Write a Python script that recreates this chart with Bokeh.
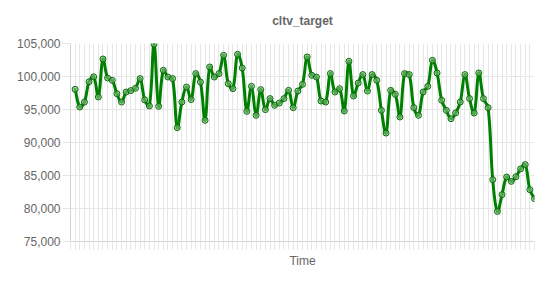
import numpy as np
from bokeh.plotting import figure
from bokeh.models import Range1d, FixedTicker, NumeralTickFormatter, ColumnDataSource
from bokeh.embed import file_html
from bokeh.resources import INLINE

# ---- data -------------------------------------------------------------
chart_title = "cltv_target"
x_title = "Time"
y_ticks = [75000, 80000, 85000, 90000, 95000, 100000, 105000]

cltv_target = [
    98060, 95380, 96130, 99200, 99950, 96900, 102650, 99770, 99420, 97400,
    96130, 97650, 97860, 98210, 99680, 96470, 95530, 104880, 95480, 100940,
    99920, 99680, 92250, 96130, 98410, 96500, 100440, 99160, 93360, 101440,
    99920, 100440, 103210, 98920, 98160, 103360, 101290, 94720, 98510, 94120,
    98010, 94980, 96650, 95630, 95980, 96650, 97900, 95280, 97800, 98810,
    102950, 100180, 99920, 96280, 96130, 100440, 97650, 98160, 94770, 102300,
    97040, 99010, 100290, 97800, 100290, 99420, 94870, 91430, 97900, 97300,
    93860, 100440, 100290, 95280, 94120, 97650, 98510, 102450, 100530, 96390,
    94870, 93610, 94470, 96130, 100290, 96650, 94470, 100530, 96650, 95280,
    84370, 79560, 82100, 84770, 84110, 84820, 86000, 86650, 82850, 81490,
]

# ---- geometry ---------------------------------------------------------
W, H = 550, 285
LEFT, RIGHT, TOP, BOTTOM = 70, 16, 43, 44
FRAME_W = W - LEFT - RIGHT
FRAME_H = H - TOP - BOTTOM

y_vals = np.array(cltv_target, dtype=float)
x_vals = np.arange(len(y_vals), dtype=float)
x_lo, x_hi = -1.0, float(len(y_vals) - 1)
y_lo, y_hi = float(min(y_ticks)), float(max(y_ticks))
x_ticks = list(np.arange(x_lo, x_hi + 1))

GREEN = "#008000"
GRID = "#e6e6e6"
AXIS = "#d4d4d4"
TEXT = "#666666"
FONT = "Liberation Sans"

# ---- smooth curve (cardinal-style bezier, tension 0.4) -----------------
sx = FRAME_W / (x_hi - x_lo)
sy = FRAME_H / (y_hi - y_lo)
px, py = x_vals * sx, y_vals * sy
tension = 0.4
n = len(px)
cp_prev = np.zeros((n, 2))
cp_next = np.zeros((n, 2))
for i in range(n):
    a = max(i - 1, 0)
    b = min(i + 1, n - 1)
    d01 = np.hypot(px[i] - px[a], py[i] - py[a])
    d12 = np.hypot(px[b] - px[i], py[b] - py[i])
    tot = d01 + d12
    s01 = d01 / tot if tot > 0 else 0.0
    s12 = d12 / tot if tot > 0 else 0.0
    fa, fb = tension * s01, tension * s12
    dx, dy = px[b] - px[a], py[b] - py[a]
    cp_prev[i] = (px[i] - fa * dx, py[i] - fa * dy)
    cp_next[i] = (px[i] + fb * dx, py[i] + fb * dy)

def to_data(cp):
    cx = np.clip(cp[:, 0] / sx, x_lo, x_hi)
    cy = np.clip(cp[:, 1] / sy, y_lo, y_hi)
    return cx, cy

nx_, ny_ = to_data(cp_next)
pvx, pvy = to_data(cp_prev)

seg = ColumnDataSource(dict(
    x0=x_vals[:-1], y0=y_vals[:-1], x1=x_vals[1:], y1=y_vals[1:],
    cx0=nx_[:-1], cy0=ny_[:-1], cx1=pvx[1:], cy1=pvy[1:],
))
pts = ColumnDataSource(dict(x=x_vals, y=y_vals))

# ---- figure -----------------------------------------------------------
p = figure(
    width=W, height=H, output_backend="svg", toolbar_location=None,
    x_range=Range1d(x_lo, x_hi), y_range=Range1d(y_lo, y_hi),
    min_border_left=LEFT, min_border_right=RIGHT,
    min_border_top=TOP, min_border_bottom=BOTTOM,
    title=chart_title,
)
p.outline_line_color = None
p.background_fill_color = "white"
p.border_fill_color = "white"

p.title.align = "center"
p.title.vertical_align = "top"
p.title.text_font = FONT
p.title.text_font_size = "12px"
p.title.text_font_style = "bold"
p.title.text_color = TEXT
p.title.offset = 0
p.title.standoff = 27

# x axis: an unlabeled tick per sample (minor ticks carry no labels)
p.xaxis.ticker = FixedTicker(ticks=[], minor_ticks=x_ticks)
p.xaxis.axis_label = x_title
p.xaxis.axis_label_text_font = FONT
p.xaxis.axis_label_text_font_size = "12px"
p.xaxis.axis_label_text_font_style = "normal"
p.xaxis.axis_label_text_color = TEXT
p.xaxis.axis_label_standoff = 4
p.xaxis.minor_tick_out = 8
p.xaxis.minor_tick_in = 0
p.xaxis.minor_tick_line_color = GRID
p.xaxis.major_tick_line_color = None
p.xaxis.axis_line_color = AXIS
p.xgrid.ticker = FixedTicker(ticks=x_ticks)

# y axis
p.yaxis.ticker = FixedTicker(ticks=y_ticks)
p.yaxis.formatter = NumeralTickFormatter(format="0,0")
p.yaxis.major_label_text_font = FONT
p.yaxis.major_label_text_font_size = "12px"
p.yaxis.major_label_text_color = TEXT
p.yaxis.major_tick_out = 8
p.yaxis.major_tick_in = 0
p.yaxis.major_label_standoff = 2
p.yaxis.minor_tick_line_color = None
p.yaxis.major_tick_line_color = GRID
p.yaxis.axis_line_color = AXIS

p.xgrid.grid_line_color = GRID
p.ygrid.grid_line_color = GRID
p.xgrid.grid_line_width = 1
p.ygrid.grid_line_width = 1

p.bezier(x0="x0", y0="y0", x1="x1", y1="y1", cx0="cx0", cy0="cy0",
         cx1="cx1", cy1="cy1", source=seg, line_color=GREEN, line_width=3,
         line_cap="round")
p.scatter(x="x", y="y", source=pts, size=6, fill_color="#7fbf7f",
          fill_alpha=0.6, line_color="#0b6b0b", line_width=1)

open("out.html", "w").write(file_html(p, INLINE))
